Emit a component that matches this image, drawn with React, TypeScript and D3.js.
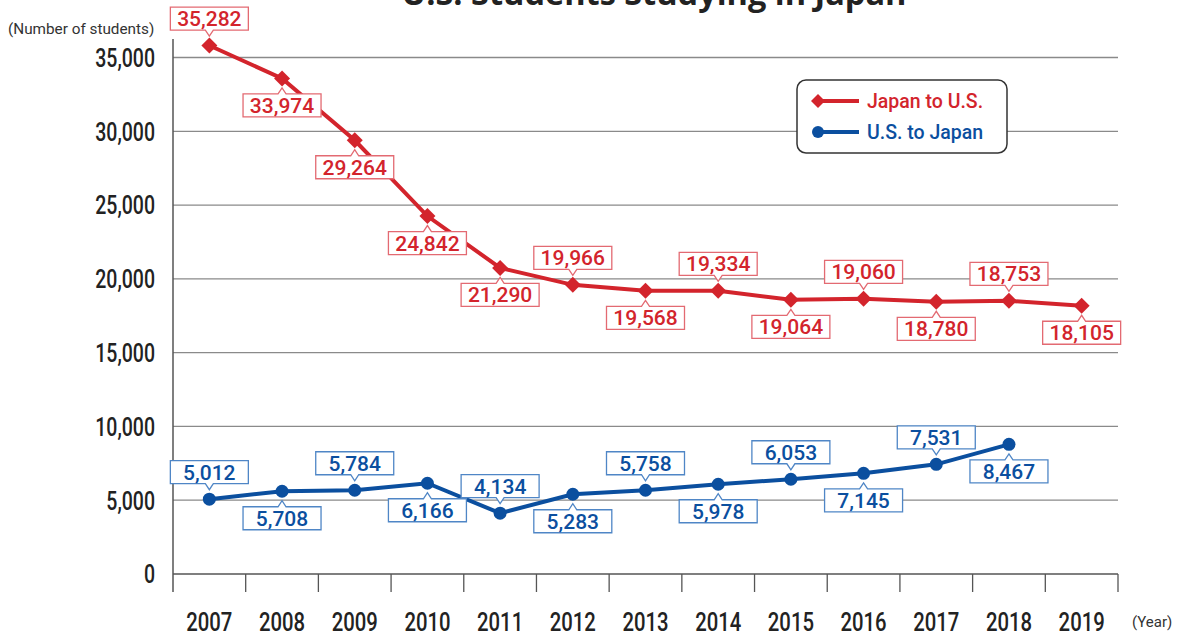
import React from "react";
import * as d3 from "d3";

const years = ["2007","2008","2009","2010","2011","2012","2013","2014","2015","2016","2017","2018","2019"];
const japanToUS = [35811, 33582, 29392, 24257, 20743, 19595, 19189, 19189, 18581, 18649, 18446, 18514, 18176];
const japanToUSLabels = ["35,282","33,974","29,264","24,842","21,290","19,966","19,568","19,334","19,064","19,060","18,780","18,753","18,105"];
const japanToUSSide = ["up","down","down","down","down","up","down","up","down","up","down","up","down"];
const usToJapan = [5068, 5608, 5676, 6149, 4122, 5405, 5676, 6081, 6419, 6824, 7432, 8784];
const usToJapanLabels = ["5,012","5,708","5,784","6,166","4,134","5,283","5,758","5,978","6,053","7,145","7,531","8,467"];
const usToJapanSide = ["up","down","up","down","up","down","up","down","up","down","up","down"];
const yTicks = [0, 5000, 10000, 15000, 20000, 25000, 30000, 35000];

const RED = "#d3242c";
const RED_BOX = "#e36a72";
const BLUE = "#0b4f9f";
const BLUE_BOX = "#4f86c6";

export default function App() {
  const x = d3.scaleBand<string>().domain(years).range([173, 1118]).padding(0);
  const y = d3.scaleLinear().domain([0, 35000]).range([574, 57.5]);
  const cx = (i: number) => (x(years[i]) as number) + x.bandwidth() / 2;
  const fmt = d3.format(",");

  const line = d3.line<number>().x((_, i) => cx(i)).y((d) => y(d));

  const boxW = 78, boxH = 23, off = 27, notch = 4, notchH = 6;
  const labelPath = (px: number, py: number, side: string) => {
    const bx = px - boxW / 2;
    if (side === "up") {
      const top = py - off - boxH / 2;
      const bot = top + boxH;
      return `M${bx},${top}H${bx + boxW}V${bot}H${px + notch}L${px},${bot + notchH}L${px - notch},${bot}H${bx}Z`;
    }
    const top = py + off - boxH / 2;
    const bot = top + boxH;
    return `M${bx},${bot}H${bx + boxW}V${top}H${px + notch}L${px},${top - notchH}L${px - notch},${top}H${bx}Z`;
  };

  const renderLabels = (vals: number[], labels: string[], sides: string[], color: string, boxColor: string) =>
    vals.map((v, i) => {
      const px = cx(i), py = y(v);
      const ly = sides[i] === "up" ? py - off : py + off;
      return (
        <g key={"l" + i}>
          <path d={labelPath(px, py, sides[i])} fill="#fff" stroke={boxColor} strokeWidth={1.3} />
          <text x={px} y={ly} dy="0.36em" textAnchor="middle" fill={color}
            style={{ fontFamily: "Roboto, sans-serif", fontSize: 21, fontWeight: 500 }}>{labels[i]}</text>
        </g>
      );
    });

  const diamond = (px: number, py: number, s: number) => `M${px},${py - s}L${px + s},${py}L${px},${py + s}L${px - s},${py}Z`;
  const condensed = { fontFamily: "Roboto, sans-serif", fontSize: 26, fontWeight: 500 };

  return (
    <svg width={1177} height={637} style={{ position: "absolute", left: 0, top: 0, background: "#fff" }}>
      <text x={654} y={5} textAnchor="middle" fill="#222"
        style={{ fontFamily: "'Open Sans', sans-serif", fontSize: 32.5, fontWeight: 700 }}>U.S. Students Studying in Japan</text>

      {yTicks.map((t) => (
        <line key={"g" + t} x1={173} x2={1118} y1={y(t)} y2={y(t)} stroke={t === 0 ? "#555" : "#8a8a8a"} strokeWidth={1.3} />
      ))}
      <line x1={173} x2={173} y1={39} y2={592} stroke="#555" strokeWidth={1.5} />
      {years.map((yr) => (
        <line key={"t" + yr} x1={(x(yr) as number) + x.bandwidth()} x2={(x(yr) as number) + x.bandwidth()} y1={574} y2={592} stroke="#555" strokeWidth={1.3} />
      ))}

      {yTicks.map((t) => (
        <text key={"yl" + t} transform={`translate(155,${y(t)}) scale(0.75,1)`} dy="0.36em" textAnchor="end" fill="#222"
          style={condensed}>{fmt(t)}</text>
      ))}
      {years.map((yr) => (
        <text key={"xl" + yr} transform={`translate(${(x(yr) as number) + x.bandwidth() / 2},631) scale(0.78,1)`} textAnchor="middle" fill="#222"
          style={condensed}>{yr}</text>
      ))}
      <text x={8} y={34} fill="#333" style={{ fontFamily: "Roboto, sans-serif", fontSize: 15.3 }}>(Number of students)</text>
      <text x={1132} y={627} fill="#333" style={{ fontFamily: "Roboto, sans-serif", fontSize: 15 }}>(Year)</text>

      <path d={line(japanToUS) as string} fill="none" stroke={RED} strokeWidth={4} />
      {japanToUS.map((v, i) => (
        <path key={"d" + i} d={diamond(cx(i), y(v), 8)} fill={RED} />
      ))}
      <path d={line(usToJapan) as string} fill="none" stroke={BLUE} strokeWidth={4} />
      {usToJapan.map((v, i) => (
        <circle key={"c" + i} cx={cx(i)} cy={y(v)} r={6.5} fill={BLUE} />
      ))}

      {renderLabels(japanToUS, japanToUSLabels, japanToUSSide, RED, RED_BOX)}
      {renderLabels(usToJapan, usToJapanLabels, usToJapanSide, BLUE, BLUE_BOX)}

      <rect x={797} y={80} width={210} height={73} rx={9} fill="#fff" stroke="#333" strokeWidth={1.5} />
      <line x1={814} x2={859} y1={101} y2={101} stroke={RED} strokeWidth={4} />
      <path d={diamond(818, 101, 7)} fill={RED} />
      <text x={867} y={101} dy="0.36em" fill={RED} style={{ fontFamily: "Roboto, sans-serif", fontSize: 19.5, fontWeight: 500 }}>Japan to U.S.</text>
      <line x1={815} x2={859} y1={132} y2={132} stroke={BLUE} strokeWidth={4} />
      <circle cx={818} cy={132} r={6} fill={BLUE} />
      <text x={867} y={132} dy="0.36em" fill={BLUE} style={{ fontFamily: "Roboto, sans-serif", fontSize: 19.5, fontWeight: 500 }}>U.S. to Japan</text>
    </svg>
  );
}
